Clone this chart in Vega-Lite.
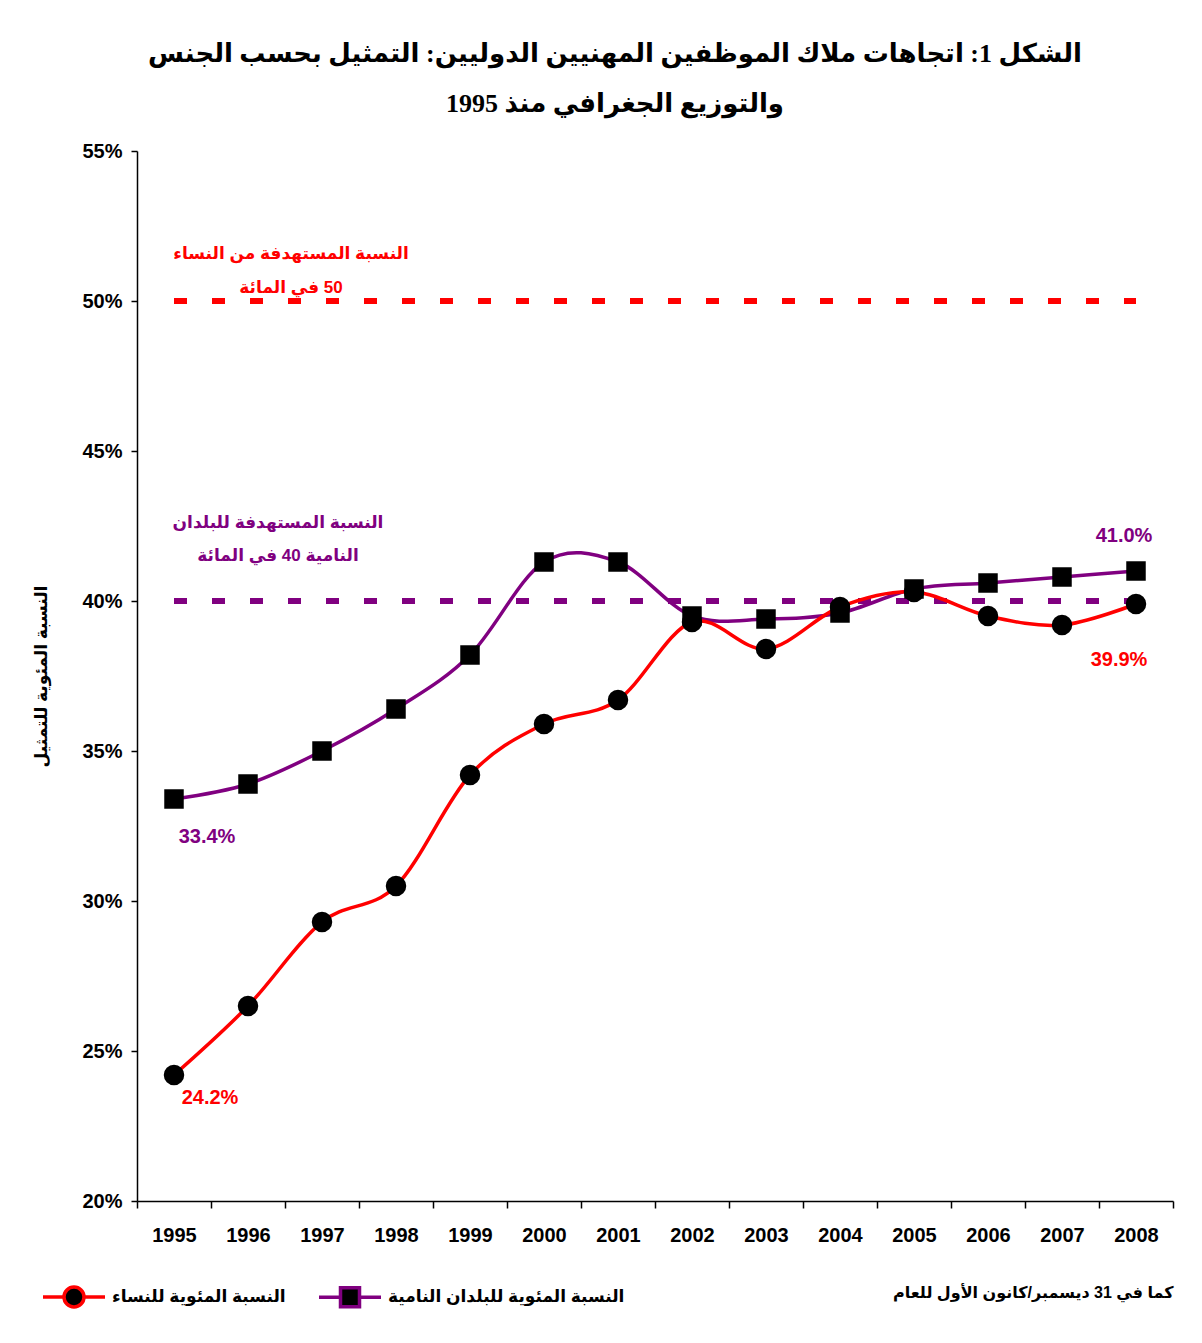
{
  "$schema": "https://vega.github.io/schema/vega-lite/v6.json",
  "width": 1036,
  "height": 1050,
  "autosize": {"type": "none"},
  "padding": {"left": 137, "top": 151, "right": 29, "bottom": 142},
  "background": "white",
  "config": {
    "view": {"stroke": null},
    "font": "Liberation Sans, DejaVu Sans"
  },
  "title": {
    "text": ["الشكل 1: اتجاهات ملاك الموظفين المهنيين الدوليين: التمثيل بحسب الجنس", "والتوزيع الجغرافي منذ 1995"],
    "font": "Liberation Serif, DejaVu Sans",
    "fontSize": 26,
    "fontWeight": "bold",
    "color": "black",
    "anchor": "middle",
    "dx": -40,
    "offset": 24,
    "lineHeight": 50
  },
  "datasets": {
    "series": [
      {"year": "1995", "series": "النسبة المئوية للبلدان النامية", "pct": 33.4},
      {"year": "1996", "series": "النسبة المئوية للبلدان النامية", "pct": 33.9},
      {"year": "1997", "series": "النسبة المئوية للبلدان النامية", "pct": 35.0},
      {"year": "1998", "series": "النسبة المئوية للبلدان النامية", "pct": 36.4},
      {"year": "1999", "series": "النسبة المئوية للبلدان النامية", "pct": 38.2},
      {"year": "2000", "series": "النسبة المئوية للبلدان النامية", "pct": 41.3},
      {"year": "2001", "series": "النسبة المئوية للبلدان النامية", "pct": 41.3},
      {"year": "2002", "series": "النسبة المئوية للبلدان النامية", "pct": 39.5},
      {"year": "2003", "series": "النسبة المئوية للبلدان النامية", "pct": 39.4},
      {"year": "2004", "series": "النسبة المئوية للبلدان النامية", "pct": 39.6},
      {"year": "2005", "series": "النسبة المئوية للبلدان النامية", "pct": 40.4},
      {"year": "2006", "series": "النسبة المئوية للبلدان النامية", "pct": 40.6},
      {"year": "2007", "series": "النسبة المئوية للبلدان النامية", "pct": 40.8},
      {"year": "2008", "series": "النسبة المئوية للبلدان النامية", "pct": 41.0},
      {"year": "1995", "series": "النسبة المئوية للنساء", "pct": 24.2},
      {"year": "1996", "series": "النسبة المئوية للنساء", "pct": 26.5},
      {"year": "1997", "series": "النسبة المئوية للنساء", "pct": 29.3},
      {"year": "1998", "series": "النسبة المئوية للنساء", "pct": 30.5},
      {"year": "1999", "series": "النسبة المئوية للنساء", "pct": 34.2},
      {"year": "2000", "series": "النسبة المئوية للنساء", "pct": 35.9},
      {"year": "2001", "series": "النسبة المئوية للنساء", "pct": 36.7},
      {"year": "2002", "series": "النسبة المئوية للنساء", "pct": 39.3},
      {"year": "2003", "series": "النسبة المئوية للنساء", "pct": 38.4},
      {"year": "2004", "series": "النسبة المئوية للنساء", "pct": 39.8},
      {"year": "2005", "series": "النسبة المئوية للنساء", "pct": 40.3},
      {"year": "2006", "series": "النسبة المئوية للنساء", "pct": 39.5},
      {"year": "2007", "series": "النسبة المئوية للنساء", "pct": 39.2},
      {"year": "2008", "series": "النسبة المئوية للنساء", "pct": 39.9}
    ]
  },
  "encoding": {
    "x": {
      "field": "year",
      "type": "ordinal",
      "scale": {"type": "band", "domain": ["1995","1996","1997","1998","1999","2000","2001","2002","2003","2004","2005","2006","2007","2008"], "paddingInner": 0, "paddingOuter": 0},
      "axis": {
        "title": "كما في 31 ديسمبر/كانون الأول للعام",
        "titleAnchor": "end",
        "titleFont": "Liberation Sans, DejaVu Sans",
        "titleFontSize": 16,
        "titleFontWeight": "bold",
        "titleColor": "black",
        "titleBaseline": "middle",
        "titleY": 91,
        "labelAngle": 0,
        "labelFont": "Liberation Sans, DejaVu Sans",
        "labelFontSize": 20,
        "labelFontWeight": "bold",
        "labelColor": "black",
        "labelPadding": 17,
        "tickBand": "extent",
        "tickSize": 7,
        "tickColor": "black",
        "tickWidth": 1.5,
        "domainColor": "black",
        "domainWidth": 1.5,
        "grid": false
      }
    },
    "y": {
      "field": "pct",
      "type": "quantitative",
      "scale": {"domain": [20, 55], "nice": false, "zero": false},
      "axis": {
        "title": "النسبة المئوية للتمثيل",
        "titleFont": "Liberation Sans, DejaVu Sans",
        "titleFontSize": 17,
        "titleFontWeight": "bold",
        "titleColor": "black",
        "titlePadding": 31,
        "values": [20, 25, 30, 35, 40, 45, 50, 55],
        "labelExpr": "datum.value + '%'",
        "labelFont": "Liberation Sans, DejaVu Sans",
        "labelFontSize": 20,
        "labelFontWeight": "bold",
        "labelColor": "black",
        "labelPadding": 9,
        "tickSize": 6,
        "tickColor": "black",
        "tickWidth": 1.5,
        "domainColor": "black",
        "domainWidth": 1.5,
        "grid": false
      }
    }
  },
  "layer": [
    {
      "data": {"values": [{"year": "1995", "pct": 50}, {"year": "2008", "pct": 50}]},
      "mark": {"type": "line", "color": "#FF0000", "strokeWidth": 6, "strokeDash": [13, 25]},
      "encoding": {}
    },
    {
      "data": {"values": [{"year": "1995", "pct": 40}, {"year": "2008", "pct": 40}]},
      "mark": {"type": "line", "color": "#800080", "strokeWidth": 6, "strokeDash": [13, 25]},
      "encoding": {}
    },
    {
      "data": {"name": "series"},
      "mark": {"type": "line", "interpolate": "cardinal", "tension": 0, "strokeWidth": 3.5},
      "encoding": {
        "color": {
          "field": "series",
          "type": "nominal",
          "scale": {"domain": ["النسبة المئوية للنساء", "النسبة المئوية للبلدان النامية"], "range": ["#FF0000", "#800080"]},
          "legend": {
            "orient": "none",
            "legendX": -75,
            "legendY": 1134,
            "direction": "horizontal",
            "title": null,
            "padding": 0,
            "labelFont": "Liberation Sans, DejaVu Sans",
            "labelFontSize": 17,
            "labelFontWeight": "bold",
            "labelColor": "black",
            "labelLimit": 400,
            "labelOffset": 26,
            "columnPadding": 26,
            "symbolSize": 400,
            "symbolStrokeWidth": 3.5,
            "encode": {
              "symbols": {
                "update": {
                  "shape": {"signal": "datum.index === 0 ? 'M-3.1,0H-1M1,0H3.1M-1,0A1,1 0 1,1 1,0A1,1 0 1,1 -1,0Z' : 'M-3.1,0H-0.95M0.95,0H3.1M-0.95,-0.95H0.95V0.95H-0.95Z'"},
                  "fill": {"value": "black"}
                }
              }
            }
          }
        }
      }
    },
    {
      "data": {"name": "series"},
      "transform": [{"filter": "datum.series === 'النسبة المئوية للبلدان النامية'"}],
      "mark": {"type": "point", "shape": "square", "filled": true, "color": "black", "size": 380, "opacity": 1},
      "encoding": {}
    },
    {
      "data": {"name": "series"},
      "transform": [{"filter": "datum.series === 'النسبة المئوية للنساء'"}],
      "mark": {"type": "point", "shape": "circle", "filled": true, "color": "black", "size": 420, "opacity": 1},
      "encoding": {}
    },
    {
      "data": {"values": [{"year": "1997", "pct": 50}]},
      "mark": {"type": "text", "text": ["النسبة المستهدفة من النساء", "‏50 في المائة"], "color": "#FF0000", "font": "Liberation Sans, DejaVu Sans", "fontSize": 17, "fontWeight": "bold", "align": "center", "baseline": "middle", "lineHeight": 34, "dx": -31, "dy": -47},
      "encoding": {}
    },
    {
      "data": {"values": [{"year": "1997", "pct": 40}]},
      "mark": {"type": "text", "text": ["النسبة المستهدفة للبلدان", "النامية 40 في المائة"], "color": "#800080", "font": "Liberation Sans, DejaVu Sans", "fontSize": 17, "fontWeight": "bold", "align": "center", "baseline": "middle", "lineHeight": 33, "dx": -44, "dy": -78},
      "encoding": {}
    },
    {
      "data": {"values": [{"year": "1995", "pct": 33.4, "label": "33.4%"}]},
      "mark": {"type": "text", "color": "#800080", "font": "Liberation Sans", "fontSize": 20, "fontWeight": "bold", "align": "center", "baseline": "middle", "dx": 33, "dy": 38},
      "encoding": {"text": {"field": "label"}}
    },
    {
      "data": {"values": [{"year": "1995", "pct": 24.2, "label": "24.2%"}]},
      "mark": {"type": "text", "color": "#FF0000", "font": "Liberation Sans", "fontSize": 20, "fontWeight": "bold", "align": "center", "baseline": "middle", "dx": 36, "dy": 23},
      "encoding": {"text": {"field": "label"}}
    },
    {
      "data": {"values": [{"year": "2008", "pct": 41.0, "label": "41.0%"}]},
      "mark": {"type": "text", "color": "#800080", "font": "Liberation Sans", "fontSize": 20, "fontWeight": "bold", "align": "center", "baseline": "middle", "dx": -12, "dy": -35},
      "encoding": {"text": {"field": "label"}}
    },
    {
      "data": {"values": [{"year": "2008", "pct": 39.9, "label": "39.9%"}]},
      "mark": {"type": "text", "color": "#FF0000", "font": "Liberation Sans", "fontSize": 20, "fontWeight": "bold", "align": "center", "baseline": "middle", "dx": -17, "dy": 56},
      "encoding": {"text": {"field": "label"}}
    }
  ]
}
